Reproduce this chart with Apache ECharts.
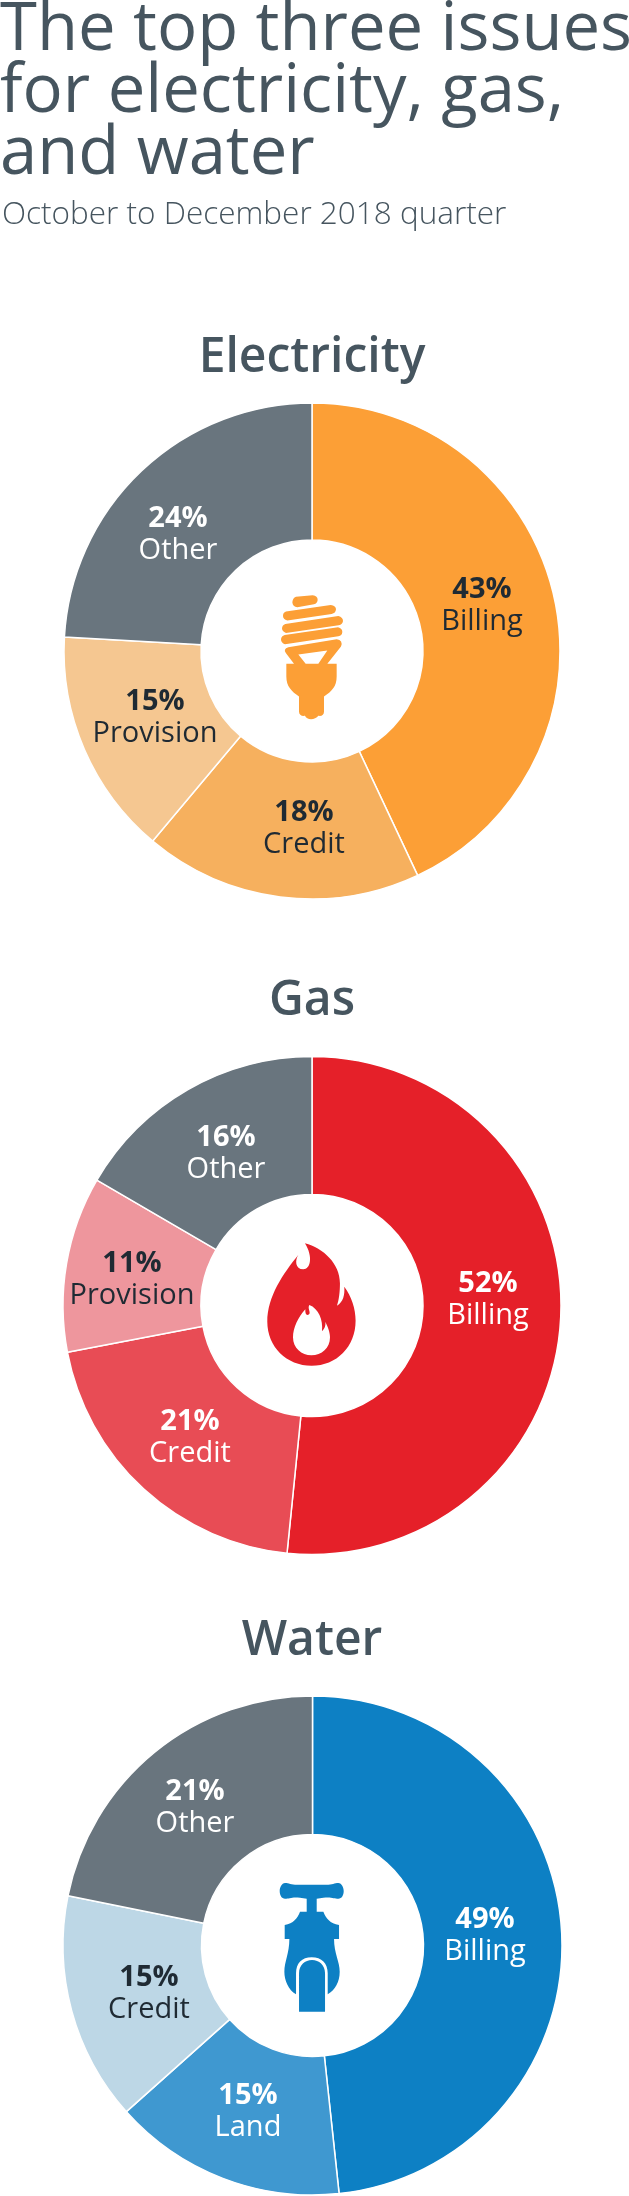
<!DOCTYPE html>
<html><head><meta charset="utf-8">
<style>html,body{margin:0;padding:0;background:#fff}#c{width:629px;height:2196px}</style>
<script src="https://cdn.jsdelivr.net/npm/echarts@6/dist/echarts.min.js"></script></head>
<body><div id="c"></div>
<script>
const electricityNames = ['Billing','Credit','Provision','Other'];
const electricityValues = [43,18.1,14.8,24.1];
const electricityPercents = ['43%','18%','15%','24%'];
const electricityColors = ['#FC9F36','#F6B05E','#F5C791','#69757E'];
const electricityText = ['#1F2A33','#1F2A33','#1F2A33','#FFFFFF'];
const gasNames = ['Billing','Credit','Provision','Other'];
const gasValues = [51.6,20.4,11.4,16.6];
const gasPercents = ['52%','21%','11%','16%'];
const gasColors = ['#E52029','#E84C55','#EE969D','#69757E'];
const gasText = ['#FFFFFF','#FFFFFF','#1F2A33','#FFFFFF'];
const waterNames = ['Billing','Land','Credit','Other'];
const waterValues = [48.3,15.1,14.8,21.8];
const waterPercents = ['49%','15%','15%','21%'];
const waterColors = ['#0D80C4','#3F98D0','#BDD7E6','#69757E'];
const waterText = ['#FFFFFF','#FFFFFF','#1F2A33','#FFFFFF'];
const electricitySpots = [[482,606],[304,829],[155,718],[178,535]];
const gasSpots = [[488,1300],[190,1438],[132,1280],[226,1154]];
const waterSpots = [[485,1936],[248,2112],[149,1994],[195,1808]];
const FONT = 'Open Sans';
const SLATE = '#46555F';

function pie(names, values, percents, colors, text, spots, cx, cy, r){
  return {type:'pie', center:[cx,cy], radius:[111,r], startAngle:90, clockwise:true, silent:true,
    animation:false, labelLine:{show:false},
    itemStyle:{borderColor:'#fff',borderWidth:1.5},
    labelLayout:p=>({x:spots[p.dataIndex][0],y:spots[p.dataIndex][1],align:'center',verticalAlign:'middle'}),
    data:names.map((n,i)=>({name:n,value:values[i],itemStyle:{color:colors[i]},
      label:{show:true,position:'inside',formatter:'{p|'+percents[i]+'}\n{n|'+n+'}',
        rich:{p:{fontFamily:FONT,fontSize:29,fontWeight:700,color:text[i],lineHeight:32,align:'center'},
              n:{fontFamily:FONT,fontSize:29,fontWeight:400,color:text[i],lineHeight:32,align:'center'}}}}))};
}
function icon(d,color,box){
  return {type:'custom',coordinateSystem:'none',silent:true,animation:false,data:[[0]],
    renderItem:()=>({type:'path',shape:{pathData:d,layout:'cover',x:box[0],y:box[1],width:box[2],height:box[3]},style:{fill:color}})};
}
const bulbPath='M318 170 L368 166 Q383 168 383 180 Q382 190 372 193 L322 202 Q308 200 307 187 Q308 174 318 170 Z '+
 'M288 215 L422 195 Q438 197 438 208 Q437 220 425 222 L292 242 Q279 238 279 228 Q279 218 288 215 Z '+
 'M286 252 L445 228 Q459 232 459 243 Q458 253 446 256 L288 279 Q276 275 276 265 Q277 255 286 252 Z '+
 'M284 285 L444 262 Q457 265 457 276 Q456 287 445 289 L285 313 Q273 309 273 298 Q274 288 284 285 Z '+
 'M295 322 L440 298 Q460 300 453 320 L412 372 L385 372 L412 332 L325 344 L347 372 L312 372 L288 340 Q278 328 295 322 Z '+
 'M289 372 L440 372 L440 410 C440 440 425 455 402 470 L402 515 C402 525 395 530 385 528 C375 542 350 542 345 528 C335 530 327 525 327 515 L327 470 C305 455 289 440 289 410 Z';
const flamePath='M345 130 C400 145 450 190 450 250 C450 275 447 300 441 317 C460 305 465 285 463 260 C485 290 497 325 497 362 C497 440 440 497 365 497 C290 497 232 440 232 365 C232 290 280 220 325 165 C315 180 315 208 340 208 C362 208 370 170 345 130 Z';
const flameInner='M358 315 C352 325 362 335 358 342 C350 350 345 342 346 328 C325 350 309 385 309 412 C309 445 335 466 364 466 C395 466 420 445 420 412 C420 395 412 378 406 365 C408 378 402 388 396 393 C400 360 385 325 358 315 Z';
const tapPath='M285 159 C298 159 305 166 330 164 L400 164 C425 166 432 159 445 159 C455 160 461 172 461 183 C461 196 455 206 445 206 C432 206 425 200 400 203 L380 206 L380 245 L400 245 C408 265 420 280 447 285 L447 327 L432 327 C432 370 449 395 449 425 C449 455 435 480 413 493 L413 430 C413 400 395 382 365 382 C335 382 318 400 318 430 L318 493 C295 480 283 450 283 425 C283 395 298 370 298 327 L284 327 L284 285 C310 280 322 265 330 245 L350 245 L350 206 L330 203 C305 200 298 206 285 206 C275 206 269 196 269 183 C269 172 275 160 285 159 Z '+
 'M327 545 L327 430 C327 405 345 390 366 390 C387 390 405 405 405 430 L405 545 Z';

const head={fontFamily:FONT,fontSize:48,fontWeight:600,color:SLATE};
const option={backgroundColor:'#fff',animation:false,
 title:[
  {text:'The top three issues\nfor electricity, gas,\nand water',left:0,top:0,padding:0,textStyle:{fontFamily:FONT,fontSize:67,fontWeight:400,color:SLATE,lineHeight:62}},
  {text:'October to December 2018 quarter',left:2,top:199,padding:0,textStyle:{fontFamily:FONT,fontSize:31.5,fontWeight:300,color:SLATE}},
  {text:'Electricity',left:312,top:334,padding:0,textAlign:'center',textStyle:head},
  {text:'Gas',left:312,top:977,padding:0,textAlign:'center',textStyle:head},
  {text:'Water',left:312,top:1617,padding:0,textAlign:'center',textStyle:head}
 ],
 series:[pie(electricityNames,electricityValues,electricityPercents,electricityColors,electricityText,electricitySpots,312,651,248),
         pie(gasNames,gasValues,gasPercents,gasColors,gasText,gasSpots,312,1305.5,249),
         pie(waterNames,waterValues,waterPercents,waterColors,waterText,waterSpots,312.5,1945.5,249.5),
         icon(bulbPath,'#FC9F36',[281,595.3,62,124]),
         icon(flamePath,'#E52029',[267.3,1243.3,88.3,122.4]),
         icon(flameInner,'#FFFFFF',[293,1305,37,50.3]),
         icon(tapPath,'#0D80C4',[279.7,1883,64,128.7])]
};
echarts.init(document.getElementById('c'),null,{renderer:'canvas'}).setOption(option);
</script></body></html>
